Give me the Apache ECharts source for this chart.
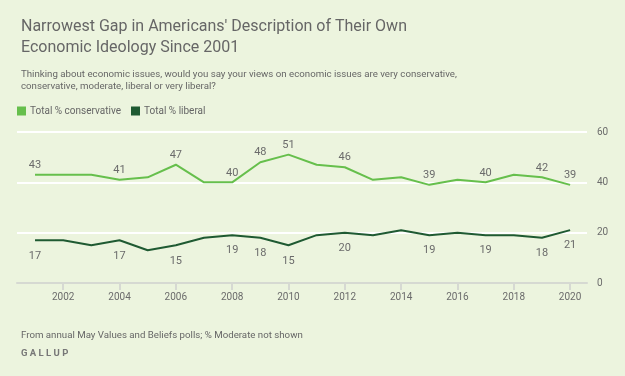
<!DOCTYPE html>
<html>
<head>
<meta charset="utf-8">
<script src="https://cdn.jsdelivr.net/npm/echarts@6/dist/echarts.min.js"></script>
<style>
  html, body { margin: 0; padding: 0; background: #ecf4de; }
  #main { width: 625px; height: 376px; }
</style>
</head>
<body>
<div id="main"></div>
<script>
var years = [2001, 2002, 2003, 2004, 2005, 2006, 2007, 2008, 2009, 2010,
             2011, 2012, 2013, 2014, 2015, 2016, 2017, 2018, 2019, 2020];
var conservative = [43, 43, 43, 41, 42, 47, 40, 40, 48, 51, 47, 46, 41, 42, 39, 41, 40, 43, 42, 39];
var liberal = [17, 17, 15, 17, 13, 15, 18, 19, 18, 15, 19, 20, 19, 21, 19, 20, 19, 19, 18, 21];
var labelYears = [2001, 2004, 2006, 2008, 2009, 2010, 2012, 2015, 2017, 2019, 2020];
var xTicks = [2002, 2004, 2006, 2008, 2010, 2012, 2014, 2016, 2018, 2020];

var font = 'Roboto, "Noto Sans", sans-serif';
var grey = '#6b6b6b';

// one item per year, label only on the years the reference annotates
function points(vals) {
  return years.map(function (y, i) {
    return { value: [y, vals[i]], label: { show: labelYears.indexOf(y) >= 0 } };
  });
}

var myChart = echarts.init(document.getElementById('main'));
myChart.setOption({
  backgroundColor: '#ecf4de',
  textStyle: { fontFamily: font },
  title: [{
    text: "Narrowest Gap in Americans' Description of Their Own\nEconomic Ideology Since 2001",
    left: 16, top: 11,
    textStyle: { fontSize: 16, fontWeight: 'normal', color: '#666666', lineHeight: 21, fontFamily: font }
  }, {
    text: 'Thinking about economic issues, would you say your views on economic issues are very conservative,\nconservative, moderate, liberal or very liberal?',
    left: 16, top: 63,
    textStyle: { fontSize: 9.7, fontWeight: 'normal', color: '#666666', lineHeight: 12.5, fontFamily: font }
  }, {
    text: 'From annual May Values and Beliefs polls; % Moderate not shown',
    left: 16, top: 326,
    textStyle: { fontSize: 9.7, fontWeight: 'normal', color: '#666666', fontFamily: font }
  }, {
    text: 'G A L L U P',
    left: 16, top: 344,
    textStyle: { fontSize: 9.5, fontWeight: 'bold', color: '#777777', fontFamily: font }
  }],
  legend: {
    left: 12, top: 101,
    icon: 'rect', itemWidth: 9, itemHeight: 9, itemGap: 10,
    textStyle: { fontSize: 10, color: '#666666', fontFamily: font, padding: [0, 0, 0, -1] },
    data: ['Total % conservative', 'Total % liberal']
  },
  grid: { left: 17, right: 38, top: 132, bottom: 93, containLabel: false },
  xAxis: {
    type: 'value', min: 2000.36, max: 2020.6,
    axisLine: { show: true, lineStyle: { color: '#d6d9d2', width: 2 } },
    axisTick: { show: true, customValues: xTicks, length: 7, lineStyle: { color: '#d6d9d2', width: 2 } },
    axisLabel: { customValues: xTicks, color: grey, fontSize: 10, margin: 9, formatter: function (v) { return String(v); } },
    splitLine: { show: false }
  },
  yAxis: {
    type: 'value', position: 'right', min: 0, max: 60, interval: 20,
    axisLine: { show: false }, axisTick: { show: false },
    axisLabel: { color: grey, fontSize: 10, margin: 10, showMinLabel: true },
    splitLine: { lineStyle: { color: '#ffffff', width: 2 } }
  },
  series: [{
    name: 'Total % conservative', type: 'line', data: points(conservative),
    color: '#66bf4c', symbol: 'circle', symbolSize: 0.1, showSymbol: true,
    lineStyle: { width: 2 },
    label: { position: 'top', distance: 4, color: grey, fontSize: 11, formatter: function (p) { return p.value[1]; } }
  }, {
    name: 'Total % liberal', type: 'line', data: points(liberal),
    color: '#1f5a32', symbol: 'circle', symbolSize: 0.1, showSymbol: true,
    lineStyle: { width: 2 },
    label: { position: 'bottom', distance: 10, color: grey, fontSize: 11, formatter: function (p) { return p.value[1]; } }
  }]
});
</script>
</body>
</html>
